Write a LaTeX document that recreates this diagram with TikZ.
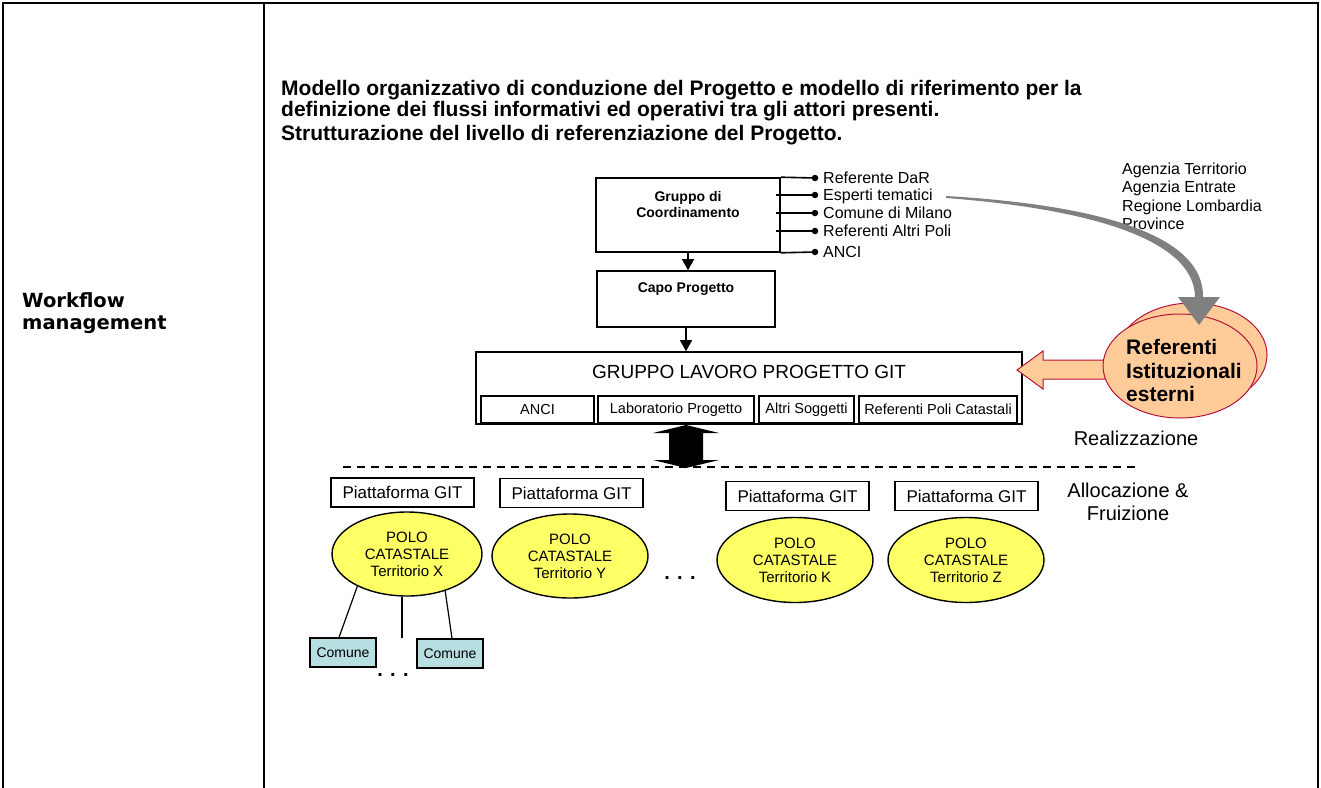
\documentclass[tikz,border=0pt]{standalone}
\usepackage{fontspec}
\setmainfont{Liberation Sans}
\newfontfamily\wfont{DejaVu Sans}
\usetikzlibrary{shapes.geometric,arrows.meta,calc}
\definecolor{polofill}{RGB}{255,255,102}
\definecolor{comfill}{RGB}{183,222,224}
\definecolor{reffill}{RGB}{255,204,153}
\definecolor{refdraw}{RGB}{180,20,60}
\definecolor{grayarrow}{RGB}{128,128,128}
\newcommand{\fs}[1]{\fontsize{#1}{#1}\selectfont}
\tikzset{
  frame/.style={line width=2.2pt},
  box/.style={draw, line width=1.6pt, inner sep=0pt},
  polo/.style={ellipse, draw, line width=1.4pt, fill=polofill, inner sep=0pt, align=center, font=\fs{15}, text depth=0pt},
  comune/.style={draw, line width=1.3pt, fill=comfill, inner sep=0pt, minimum width=66pt, minimum height=29pt, font=\fs{14}},
  piatt/.style={draw, line width=1.3pt, inner sep=0pt, minimum width=143pt, minimum height=29pt, font=\fs{17}},
  sub/.style={draw, line width=1.3pt, inner sep=0pt, minimum height=27pt, font=\fs{14.5}},
  lbl/.style={anchor=base west, inner sep=0pt, font=\fs{16}},
  ttl/.style={anchor=base west, inner sep=0pt, font=\bfseries\fs{21}},
  wtl/.style={anchor=base west, inner sep=0pt, font=\wfont\bfseries\fs{19.5}},
  side/.style={inner sep=0pt, font=\fs{20}},
  agl/.style={anchor=base west, inner sep=0pt, font=\fs{16}},
  rtl/.style={anchor=base west, inner sep=0pt, font=\bfseries\fs{21}},
  dot/.style={circle, fill=black, inner sep=0pt, minimum size=6.5pt},
  arr/.style={line width=1.2pt, -{Triangle[length=11pt,width=12pt]}},
  refell/.style={ellipse, draw=refdraw, line width=1pt, fill=reffill, inner sep=0pt},
}
\begin{document}
\begin{tikzpicture}[x=1pt,y=-1pt]
\useasboundingbox (0,0) rectangle (1321,787);
% frame
\draw[frame] (3,790) -- (3,3) -- (1318,3) -- (1318,790);
\draw[frame] (264,3) -- (264,790);

% left column
\node[wtl] (w1) at (22,307) {Workflow};
\node[wtl] (w2) at (22,329) {management};

% titles
\node[ttl] (t1) at (281,95) {Modello organizzativo di conduzione del Progetto e modello di riferimento per la};
\node[ttl] (t2) at (281,116) {definizione dei flussi informativi ed operativi tra gli attori presenti.};
\node[ttl] (t3) at (281,140) {Strutturazione del livello di referenziazione del Progetto.};

% Gruppo di coordinamento
\node[box, minimum width=184pt, minimum height=74pt] (gc) at (688,215) {};
\node[align=center, font=\bfseries\fs{14}, inner sep=0pt] (gct) at (688,204) {Gruppo di\\[2pt]Coordinamento};

\node[dot] (d1) at (815,178) {};
\node[dot] (d2) at (815,195) {};
\node[dot] (d3) at (815,213) {};
\node[dot] (d4) at (815,231) {};
\node[dot] (d5) at (815,252) {};
\coordinate (s2) at (776,195);
\coordinate (s3) at (776,213);
\coordinate (s4) at (776,231);
\draw[line width=1.6pt] (gc.north east) -- (d1.center);
\draw[line width=1.2pt] (s2) -- (d2.center);
\draw[line width=1.2pt] (s3) -- (d3.center);
\draw[line width=1.2pt] (s4) -- (d4.center);
\draw[line width=1.6pt] (gc.south east) -- (d5.center);
\node[lbl] (l1) at (823,183.5) {Referente DaR};
\node[lbl] (l2) at (823,200.5) {Esperti tematici};
\node[lbl] (l3) at (823,218.5) {Comune di Milano};
\node[lbl] (l4) at (823,236.5) {Referenti Altri Poli};
\node[lbl] (l5) at (823,257.5) {ANCI};

% Capo progetto
\node[box, minimum width=178pt, minimum height=56pt] (cp) at (686,299) {};
\node[font=\bfseries\fs{14}, inner sep=0pt] (cpt) at (686,289) {Capo Progetto};
\draw[arr] (gc.south) -- (gc.south |- cp.north);

% Gruppo lavoro
\node[box, minimum width=546pt, minimum height=72pt] (gl) at (749,388) {};
\node[font=\fs{19}, inner sep=0pt] (glt) at (749,372) {GRUPPO LAVORO PROGETTO GIT};
\draw[arr] (cp.south) -- (cp.south |- gl.north);
\node[sub, minimum width=113pt] (sa) at (537.5,409.5) {ANCI};
\node[sub, minimum width=156pt] (sb) at (676,409.5) {Laboratorio Progetto};
\node[sub, minimum width=95pt] (sc) at (806.5,409.5) {Altri Soggetti};
\node[sub, minimum width=158pt] (sd) at (938,409.5) {Referenti Poli Catastali};

% double arrow
\coordinate (da) at (686,425);
\coordinate (db) at (686,468);
\fill (da) -- ++(33,8) -- ++(-16,0) -- ++(0,27) -- ++(16,0) -- (db) -- ++(-33,-8) -- ++(16,0) -- ++(0,-27) -- ++(-16,0) -- cycle;

% dashed separator
\coordinate (ds1) at (343,467);
\coordinate (ds2) at (1135,467);
\draw[line width=1.4pt, dash pattern=on 8pt off 6pt] (ds1) -- (ds2);

\node[side] (real) at (1136,438) {Realizzazione};
\node[side, align=center] (alloc) at (1128,502) {Allocazione \&\\[3pt]Fruizione};

% piattaforme
\node[piatt] (p1) at (402.5,492.5) {Piattaforma GIT};
\node[piatt] (p2) at (571.5,493) {Piattaforma GIT};
\node[piatt] (p3) at (797.5,496) {Piattaforma GIT};
\node[piatt] (p4) at (966.5,496) {Piattaforma GIT};

% poli
\node[polo, minimum width=150pt, minimum height=84pt] (e1) at (407,554) {POLO\\[2pt]CATASTALE\\[2pt]Territorio X};
\node[polo, minimum width=156pt, minimum height=84pt] (e2) at (570,556) {POLO\\[2pt]CATASTALE\\[2pt]Territorio Y};
\node[polo, minimum width=156pt, minimum height=85pt] (e3) at (795,560) {POLO\\[2pt]CATASTALE\\[2pt]Territorio K};
\node[polo, minimum width=156pt, minimum height=85pt] (e4) at (966,560) {POLO\\[2pt]CATASTALE\\[2pt]Territorio Z};
\node[font=\bfseries\fs{20}, inner sep=0pt] (dots1) at (680,578) {. . .};

% comuni
\node[comune] (c1) at (343,652.5) {Comune};
\node[comune] (c2) at (450,653.5) {Comune};
\coordinate (cm) at (402,638);
\draw[line width=1.2pt] (e1.213) -- ($(c1.north)+(-4,0)$);
\draw[line width=1.2pt] ($(e1.south)+(-5,0)$) -- (cm);
\draw[line width=1.2pt] (e1.316) -- ($(c2.north)+(2,0)$);
\node[font=\bfseries\fs{20}, inner sep=0pt] (dots2) at (393,675) {. . .};

% Referenti istituzionali esterni
\draw[refdraw, line width=1pt, fill=reffill] (1017,370) -- (1043,351) -- (1043,360) -- (1110,360) -- (1110,379) -- (1043,379) -- (1043,389) -- cycle;
\node[refell, minimum width=150pt, minimum height=104pt] (rb) at (1192,355) {};
\node[refell, minimum width=154pt, minimum height=104pt] (rf) at (1180,366) {};
\node[rtl] (rt1) at (1126,354.5) {Referenti};
\node[rtl] (rt2) at (1126,378) {Istituzionali};
\node[rtl] (rt3) at (1126,401) {esterni};

\node[agl] (a1) at (1122,174) {Agenzia Territorio};
\node[agl] (a2) at (1122,192.5) {Agenzia Entrate};
\node[agl] (a3) at (1122,211) {Regione Lombardia};
\node[agl] (a4) at (1122,229.5) {Province};

% gray curved arrow
\coordinate (ga) at (946,196);
\coordinate (gb) at (1199,297);
\fill[grayarrow] (ga) .. controls (1082,204) and (1204,230) .. ($(gb)+(4,0)$) -- ($(gb)+(-4,0)$) .. controls (1194,236) and (1078,208) .. ($(ga)+(0,2)$) -- cycle;
\fill[grayarrow] ($(gb)+(-21,0)$) -- ($(gb)+(21,0)$) -- ($(gb)+(0,28)$) -- cycle;
\end{tikzpicture}
\end{document}
